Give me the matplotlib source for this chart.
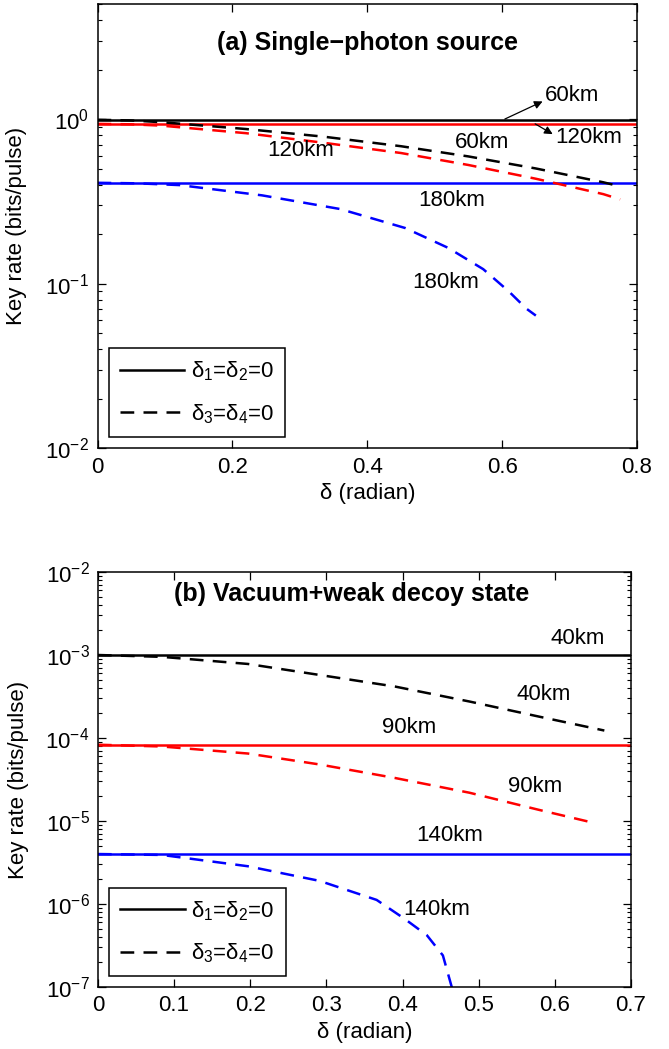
import matplotlib
matplotlib.use('Agg')
import matplotlib.pyplot as plt
from matplotlib.ticker import LogLocator, NullFormatter

plt.rcParams['font.family'] = ['Liberation Sans', 'DejaVu Sans']
plt.rcParams['mathtext.fontset'] = 'custom'
plt.rcParams['mathtext.rm'] = 'Liberation Sans'
plt.rcParams['mathtext.it'] = 'Liberation Sans:italic'
plt.rcParams['mathtext.default'] = 'regular'

# ---------------- data: panel (a) single-photon source ----------------
a_xlim = [0, 0.8]
a_xticks = [0, 0.2, 0.4, 0.6, 0.8]
a_xticklabels = ['0', '0.2', '0.4', '0.6', '0.8']
a_ylim = [1e-2, 5]

a_solid_60 = 0.99
a_solid_120 = 0.935
a_solid_180 = 0.41

a_dash60_x = [0, 0.05, 0.095, 0.22, 0.335, 0.45, 0.55, 0.65, 0.75, 0.775]
a_dash60_y = [0.99, 0.981, 0.957, 0.870, 0.782, 0.684, 0.593, 0.501, 0.413, 0.390]
a_dash120_x = [0, 0.05, 0.095, 0.22, 0.335, 0.45, 0.55, 0.65, 0.75, 0.775]
a_dash120_y = [0.935, 0.929, 0.912, 0.821, 0.718, 0.622, 0.526, 0.434, 0.350, 0.325]
a_dash180_x = [0, 0.06, 0.122, 0.244, 0.36, 0.456, 0.52, 0.572, 0.61, 0.636, 0.65]
a_dash180_y = [0.41, 0.407, 0.397, 0.344, 0.284, 0.218, 0.165, 0.1225, 0.0897, 0.0705, 0.0640]

# ---------------- data: panel (b) vacuum+weak decoy ----------------
b_xlim = [0, 0.7]
b_xticks = [0, 0.1, 0.2, 0.3, 0.4, 0.5, 0.6, 0.7]
b_xticklabels = ['0', '0.1', '0.2', '0.3', '0.4', '0.5', '0.6', '0.7']
b_ylim = [1e-7, 1e-2]

b_solid_40 = 1.0e-3
b_solid_90 = 8.3e-5
b_solid_140 = 4.0e-6

b_dash40_x = [0, 0.084, 0.197, 0.291, 0.39, 0.488, 0.578, 0.665]
b_dash40_y = [1.0e-3, 9.5e-4, 7.8e-4, 5.75e-4, 4.17e-4, 2.75e-4, 1.82e-4, 1.23e-4]
b_dash90_x = [0, 0.084, 0.197, 0.291, 0.39, 0.488, 0.578, 0.651]
b_dash90_y = [8.3e-5, 7.9e-5, 6.5e-5, 4.8e-5, 3.3e-5, 2.19e-5, 1.37e-5, 9.5e-6]
b_dash140_x = [0, 0.084, 0.197, 0.291, 0.366, 0.403, 0.432, 0.453, 0.466]
b_dash140_y = [4.0e-6, 3.9e-6, 2.85e-6, 1.9e-6, 1.12e-6, 6.6e-7, 4.2e-7, 2.4e-7, 9.0e-8]

legend_labels = [r'$\delta_1$=$\delta_2$=0', r'$\delta_3$=$\delta_4$=0']

W, H = 669, 1049
fig = plt.figure(figsize=(W / 100, H / 100), dpi=100)

def pos(l, r, t, b):
    return [l / W, 1 - b / H, (r - l) / W, (b - t) / H]

ax1 = fig.add_axes(pos(97.5, 637, 4, 448.3))
ax2 = fig.add_axes(pos(97.9, 631, 572, 987))

LW = 1.8
DASH = (5.5, 3.7)
FS = 16

def style(ax, xlim, xticks, xticklabels, ylim):
    ax.set_yscale('log')
    ax.set_xlim(xlim)
    ax.set_ylim(ylim)
    ax.set_xticks(xticks)
    ax.set_xticklabels(xticklabels)
    ax.yaxis.set_major_locator(LogLocator(base=10, numticks=20))
    ax.yaxis.set_minor_locator(LogLocator(base=10, subs=range(2, 10), numticks=20))
    ax.yaxis.set_minor_formatter(NullFormatter())
    ax.tick_params(which='both', direction='in', top=True, right=True, labelsize=FS)
    ax.tick_params(which='major', length=6, width=0.9, pad=6)
    ax.tick_params(which='minor', length=3, width=0.8)
    for s in ax.spines.values():
        s.set_linewidth(1.1)
    ax.set_ylabel('Key rate (bits/pulse)', fontsize=FS)
    ax.set_xlabel('δ (radian)', fontsize=FS, labelpad=4)
    ax.yaxis.set_label_coords(-0.13, 0.5)

# panel (a)
ax1.plot(a_xlim, [a_solid_60] * 2, color='black', lw=LW)
ax1.plot(a_xlim, [a_solid_120] * 2, color='red', lw=LW)
ax1.plot(a_xlim, [a_solid_180] * 2, color='blue', lw=LW)
ax1.plot(a_dash60_x, a_dash60_y, color='black', lw=LW, ls=(0, DASH))
ax1.plot(a_dash120_x, a_dash120_y, color='red', lw=LW, ls=(0, DASH))
ax1.plot(a_dash180_x, a_dash180_y, color='blue', lw=LW, ls=(0, DASH))
style(ax1, a_xlim, a_xticks, a_xticklabels, a_ylim)

ax1.text(0.40, 2.9, '(a) Single−photon source', fontsize=18, fontweight='bold',
         ha='center', va='center')
ax1.text(0.704, 1.40, '60km', fontsize=FS, ha='center', va='center')
ax1.annotate('', xy=(0.66, 1.28), xytext=(0.604, 1.0),
             arrowprops=dict(arrowstyle='-|>', color='black', lw=0.9,
                             mutation_scale=12, shrinkA=0, shrinkB=0))
ax1.text(0.728, 0.77, '120km', fontsize=FS, ha='center', va='center')
ax1.annotate('', xy=(0.675, 0.81), xytext=(0.649, 0.935),
             arrowprops=dict(arrowstyle='-|>', color='black', lw=0.9,
                             mutation_scale=12, shrinkA=0, shrinkB=0))
ax1.text(0.302, 0.646, '120km', fontsize=FS, ha='center', va='center')
ax1.text(0.570, 0.718, '60km', fontsize=FS, ha='center', va='center')
ax1.text(0.525, 0.322, '180km', fontsize=FS, ha='center', va='center')
ax1.text(0.517, 0.102, '180km', fontsize=FS, ha='center', va='center')

# panel (b)
ax2.plot(b_xlim, [b_solid_40] * 2, color='black', lw=LW)
ax2.plot(b_xlim, [b_solid_90] * 2, color='red', lw=LW)
ax2.plot(b_xlim, [b_solid_140] * 2, color='blue', lw=LW)
ax2.plot(b_dash40_x, b_dash40_y, color='black', lw=LW, ls=(0, DASH))
ax2.plot(b_dash90_x, b_dash90_y, color='red', lw=LW, ls=(0, DASH))
ax2.plot(b_dash140_x, b_dash140_y, color='blue', lw=LW, ls=(0, DASH))
style(ax2, b_xlim, b_xticks, b_xticklabels, b_ylim)

ax2.text(0.333, 5.4e-3, '(b) Vacuum+weak decoy state', fontsize=18,
         fontweight='bold', ha='center', va='center')
ax2.text(0.630, 1.56e-3, '40km', fontsize=FS, ha='center', va='center')
ax2.text(0.586, 3.33e-4, '40km', fontsize=FS, ha='center', va='center')
ax2.text(0.409, 1.35e-4, '90km', fontsize=FS, ha='center', va='center')
ax2.text(0.574, 2.59e-5, '90km', fontsize=FS, ha='center', va='center')
ax2.text(0.4615, 6.65e-6, '140km', fontsize=FS, ha='center', va='center')
ax2.text(0.445, 8.5e-7, '140km', fontsize=FS, ha='center', va='center')

h1 = plt.Line2D([], [], color='black', lw=LW)
h2 = plt.Line2D([], [], color='black', lw=LW, ls=(0, DASH))
for ax in (ax1, ax2):
    leg = ax.legend([h1, h2], legend_labels, loc='lower left',
                    bbox_to_anchor=(0.021, 0.026), borderaxespad=0,
                    fontsize=FS, handlelength=2.9, handletextpad=0.3,
                    borderpad=0.5, labelspacing=0.85, fancybox=False,
                    framealpha=1)
    leg.get_frame().set_edgecolor('black')
    leg.get_frame().set_linewidth(1.1)

fig.savefig('out.png', dpi=100)
